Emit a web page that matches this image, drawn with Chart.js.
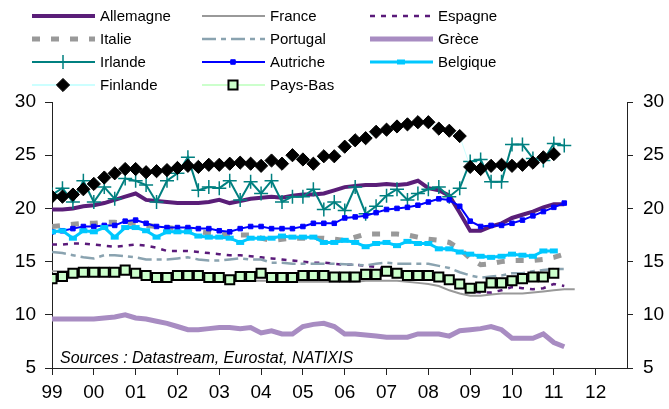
<!DOCTYPE html>
<html>
<head>
<meta charset="utf-8">
<script src="https://cdn.jsdelivr.net/npm/chart.js@4.4.1/dist/chart.umd.min.js"></script>
<style>
  html, body { margin: 0; padding: 0; background: #fff; }
</style>
</head>
<body>
<canvas id="chart" width="669" height="409"></canvas>
<script>
// quarterly data, first point = 1999 Q1
const startYear = 1999;
const yearTicks = [1999, 2000, 2001, 2002, 2003, 2004, 2005, 2006, 2007, 2008, 2009, 2010, 2011, 2012];
const yearLabels = ['99', '00', '01', '02', '03', '04', '05', '06', '07', '08', '09', '10', '11', '12'];

const allemagne = [19.9, 19.9, 20.0, 20.2, 20.3, 20.5, 20.8, 21.1, 21.4, 20.8,
  20.7, 20.6, 20.5, 20.5, 20.5, 20.6, 20.8, 20.5, 20.7, 20.9,
  21.0, 21.1, 21.0, 21.2, 21.3, 21.3, 21.4, 21.7, 22.0, 22.1,
  22.2, 22.2, 22.3, 22.2, 22.3, 22.6, 21.9, 21.7, 21.2, 19.6,
  17.9, 17.9, 18.3, 18.6, 19.1, 19.4, 19.7, 20.1, 20.4, 20.4];
const france = [14.1, 14.1, 14.1, 14.1, 14.0, 14.0, 14.0, 14.0, 13.9, 13.8,
  13.7, 13.6, 13.5, 13.4, 13.4, 13.3, 13.3, 13.2, 13.2, 13.2,
  13.2, 13.2, 13.1, 13.1, 13.1, 13.1, 13.1, 13.1, 13.1, 13.1,
  13.2, 13.2, 13.2, 13.2, 13.1, 13.0, 12.9, 12.7, 12.3, 12.0,
  11.8, 11.8, 11.9, 12.0, 12.0, 12.0, 12.1, 12.2, 12.3, 12.4, 12.4];
const espagne = [16.6, 16.6, 16.7, 16.7, 16.6, 16.5, 16.4, 16.5, 16.6, 16.5,
  16.3, 16.0, 16.0, 16.0, 15.9, 15.8, 15.7, 15.6, 15.6, 15.5,
  15.4, 15.3, 15.2, 15.1, 15.0, 14.9, 14.9, 14.8, 14.7, 14.7,
  14.6, 14.5, 14.3, 14.0, 13.8, 13.6, 13.4, 13.2, 12.9, 12.5,
  12.2, 12.1, 12.1, 12.3, 12.6, 12.5, 12.4, 12.5, 12.9, 12.7];
const italie = [18.3, 18.4, 18.5, 18.6, 18.6, 18.7, 18.7, 18.6, 18.6, 18.4,
  18.3, 18.2, 18.1, 17.9, 17.8, 17.7, 17.6, 17.5, 17.5, 17.5,
  17.2, 17.0, 17.1, 17.2, 17.2, 17.2, 17.2, 17.1, 17.0, 17.3,
  17.6, 17.6, 17.6, 17.6, 17.5, 17.3, 17.1, 17.0, 16.8, 16.2,
  15.3, 14.7, 14.8, 15.0, 15.1, 15.1, 15.1, 15.2, 15.4, 15.7];
const portugal = [15.9, 15.8, 15.6, 15.4, 15.3, 15.6, 15.6, 15.5, 15.4, 15.2,
  15.2, 15.2, 15.3, 15.4, 15.2, 15.1, 15.1, 15.2, 15.3, 15.2,
  15.2, 14.9, 14.9, 14.8, 14.8, 14.8, 14.8, 14.8, 14.75, 14.7,
  14.65, 14.8, 14.9, 14.8, 14.8, 14.8, 14.8, 14.6, 14.4, 14.0,
  13.7, 13.5, 13.6, 13.7, 13.9, 13.9, 14.1, 14.2, 14.3, 14.3];
const grece = [9.6, 9.6, 9.6, 9.6, 9.6, 9.7, 9.8, 10.0, 9.7, 9.6,
  9.4, 9.2, 8.9, 8.6, 8.6, 8.7, 8.8, 8.8, 8.7, 8.8,
  8.3, 8.5, 8.2, 8.2, 8.9, 9.1, 9.2, 8.9, 8.2, 8.2,
  8.1, 8.0, 7.9, 7.9, 7.9, 8.2, 8.2, 8.2, 8.0, 8.5,
  8.6, 8.7, 8.9, 8.6, 7.8, 7.8, 7.8, 8.2, 7.4, 7.0];
const irlande = [21.3, 21.9, 20.6, 22.6, 20.6, 22.0, 20.9, 22.8, 22.6, 22.2,
  20.6, 22.6, 23.3, 24.8, 21.7, 22.0, 21.9, 22.6, 20.8, 22.5,
  21.4, 22.6, 20.6, 21.1, 21.1, 21.8, 19.9, 20.6, 19.8, 22.0,
  19.5, 20.2, 21.2, 21.8, 20.8, 21.4, 21.8, 22.0, 21.1, 21.9,
  24.4, 24.6, 22.5, 22.5, 26.0, 26.0, 24.7, 24.5, 26.1, 25.9];
const autriche = [17.8, 17.9, 18.1, 18.3, 18.3, 18.4, 18.4, 18.8, 18.9, 18.6,
  18.3, 18.2, 18.2, 18.2, 18.1, 18.1, 17.9, 17.8, 18.1, 18.3,
  18.3, 18.1, 18.1, 18.1, 18.3, 18.6, 18.6, 18.6, 19.1, 19.2,
  19.3, 19.6, 19.9, 20.0, 20.1, 20.3, 20.6, 20.9, 20.8, 20.2,
  18.8, 18.3, 18.4, 18.4, 18.6, 18.9, 19.3, 19.7, 20.1, 20.5];
const belgique = [17.8, 17.9, 17.2, 17.9, 17.8, 18.2, 17.3, 18.2, 18.2, 17.9,
  17.3, 17.8, 17.8, 17.8, 17.4, 17.3, 17.3, 17.2, 16.8, 17.2,
  17.2, 17.2, 17.4, 17.3, 17.3, 17.3, 16.8, 16.8, 17.0, 16.8,
  16.4, 16.7, 16.8, 16.5, 16.9, 16.7, 16.7, 16.2, 16.2, 15.9,
  15.7, 15.5, 15.4, 15.5, 15.7, 15.6, 15.5, 16.0, 16.0];
const finlande = [21.1, 21.1, 21.3, 21.8, 22.3, 22.9, 23.3, 23.7, 23.7, 23.4,
  23.5, 23.6, 23.8, 24.0, 23.9, 24.1, 24.1, 24.2, 24.3, 24.2,
  24.0, 24.5, 24.2, 25.0, 24.6, 24.2, 24.9, 24.9, 25.8, 26.4,
  26.6, 27.2, 27.4, 27.7, 27.9, 28.1, 28.1, 27.5, 27.3, 26.8,
  23.9, 23.7, 24.0, 24.1, 24.0, 24.1, 24.3, 24.8, 25.1];
const paysBas = [13.4, 13.6, 13.9, 14.0, 14.0, 14.0, 14.0, 14.2, 13.9, 13.7,
  13.5, 13.5, 13.7, 13.7, 13.7, 13.5, 13.5, 13.3, 13.6, 13.6,
  13.9, 13.5, 13.5, 13.5, 13.7, 13.7, 13.7, 13.55, 13.55, 13.55,
  13.8, 13.8, 14.1, 13.9, 13.7, 13.7, 13.7, 13.55, 13.3, 12.9,
  12.5, 12.6, 13.0, 13.0, 13.2, 13.4, 13.55, 13.55, 13.9];

const sourceText = 'Sources : Datastream, Eurostat, NATIXIS';
const font = '"Liberation Sans", Arial, sans-serif';

function quarterly(values) {
  return values.map((v, i) => ({ x: startYear + i / 4, y: v }));
}

const series = [
  { label: 'Allemagne', values: allemagne, borderColor: '#5a1e78', borderWidth: 4 },
  { label: 'France', values: france, borderColor: '#999999', borderWidth: 2 },
  { label: 'Espagne', values: espagne, borderColor: '#5a1a7a', borderWidth: 2.5, borderDash: [5, 6] },
  { label: 'Italie', values: italie, borderColor: '#999999', borderWidth: 5, borderDash: [8, 11] },
  { label: 'Portugal', values: portugal, borderColor: '#8aa3b0', borderWidth: 2.5, borderDash: [14, 5, 5, 5] },
  { label: 'Grèce', values: grece, borderColor: '#a88cc2', borderWidth: 5 },
  { label: 'Irlande', values: irlande, borderColor: '#008080', borderWidth: 2,
    pointStyle: 'cross', pointRadius: 7, pointBorderWidth: 1.5 },
  { label: 'Autriche', values: autriche, borderColor: '#0000ff', borderWidth: 2,
    pointStyle: 'rect', pointRadius: 3.2, pointBackgroundColor: '#0000ff', pointBorderWidth: 1 },
  { label: 'Belgique', values: belgique, borderColor: '#00c8ff', borderWidth: 3,
    pointStyle: 'line', pointRadius: 4, pointBorderWidth: 5 },
  { label: 'Finlande', values: finlande, borderColor: '#ccffff', borderWidth: 1,
    pointStyle: 'rectRot', pointRadius: 6.6, pointBackgroundColor: '#000000', pointBorderColor: '#000000', pointBorderWidth: 1 },
  { label: 'Pays-Bas', values: paysBas, borderColor: '#ccffcc', borderWidth: 1.5,
    pointStyle: 'rect', pointRadius: 6.4, pointBackgroundColor: '#ccffcc', pointBorderColor: '#000000', pointBorderWidth: 2 }
];

const datasets = series.map((s, k) => ({
  label: s.label,
  data: quarterly(s.values),
  borderColor: s.borderColor,
  borderWidth: s.borderWidth,
  borderDash: s.borderDash || [],
  borderCapStyle: 'butt',
  pointStyle: s.pointStyle || 'circle',
  pointRadius: s.pointRadius || 0,
  pointBackgroundColor: s.pointBackgroundColor || s.borderColor,
  pointBorderColor: s.pointBorderColor || s.borderColor,
  pointBorderWidth: s.pointBorderWidth || 1,
  tension: 0,
  fill: false,
  order: series.length - k   // later series drawn on top, like the original
}));

// legend in a 3-column grid + source note
const legendCols = [32, 202, 370];
const legendRows = [16, 39, 62, 85];

const extras = {
  id: 'extras',
  afterDraw(chart) {
    const ctx = chart.ctx;
    series.forEach((s, k) => {
      const x0 = legendCols[k % 3];
      const y = legendRows[Math.floor(k / 3)];
      ctx.save();
      ctx.strokeStyle = s.borderColor;
      ctx.lineWidth = Math.max(s.borderWidth, 2);
      ctx.lineCap = 'butt';
      ctx.setLineDash(s.borderDash || []);
      ctx.beginPath();
      ctx.moveTo(x0, y);
      ctx.lineTo(x0 + 63, y);
      ctx.stroke();
      ctx.setLineDash([]);
      if (s.pointRadius) {
        ctx.fillStyle = s.pointBackgroundColor || s.borderColor;
        ctx.strokeStyle = s.pointBorderColor || s.borderColor;
        ctx.lineWidth = s.pointBorderWidth || 1;
        Chart.helpers.drawPoint(ctx, {
          pointStyle: s.pointStyle, radius: s.pointRadius, rotation: 0, borderWidth: ctx.lineWidth
        }, x0 + 31, y);
      }
      ctx.fillStyle = '#000';
      ctx.font = '15px ' + font;
      ctx.textBaseline = 'middle';
      ctx.fillText(s.label, x0 + 68, y + 1);
      ctx.restore();
    });

    ctx.save();
    ctx.fillStyle = '#000';
    ctx.font = 'italic 16px ' + font;
    ctx.textBaseline = 'alphabetic';
    ctx.fillText(sourceText, 60, 363);
    ctx.restore();
  }
};

const tickFont = { family: font, size: 19 };

new Chart(document.getElementById('chart'), {
  type: 'line',
  data: { datasets },
  options: {
    responsive: false,
    animation: false,
    devicePixelRatio: 1,
    layout: { padding: { top: 102, left: 0, right: 0, bottom: 0 } },
    plugins: { legend: { display: false }, tooltip: { enabled: false } },
    scales: {
      x: {
        type: 'linear',
        min: 1999,
        max: 2012.75,
        afterBuildTicks: s => { s.ticks = yearTicks.map(v => ({ value: v })); },
        afterFit: s => { s.height = 41; },
        ticks: {
          color: '#000',
          font: tickFont,
          padding: 6,
          maxRotation: 0,
          callback: v => yearLabels[yearTicks.indexOf(v)]
        },
        grid: { drawOnChartArea: false, drawTicks: true, tickLength: 7, color: '#222' },
        border: { display: true, color: '#222' }
      },
      y: {
        position: 'left',
        min: 5,
        max: 30,
        afterFit: s => { s.width = 52; },
        ticks: { stepSize: 5, color: '#000', font: tickFont, padding: 9 },
        grid: { drawOnChartArea: false, drawTicks: true, tickLength: 7, color: '#222' },
        border: { display: true, color: '#222' }
      },
      y2: {
        position: 'right',
        min: 5,
        max: 30,
        afterFit: s => { s.width = 42; },
        ticks: { stepSize: 5, color: '#000', font: tickFont, padding: 10 },
        grid: { drawOnChartArea: false, drawTicks: true, tickLength: 6, color: '#222' },
        border: { display: true, color: '#222' }
      }
    }
  },
  plugins: [extras]
});
</script>
</body>
</html>
